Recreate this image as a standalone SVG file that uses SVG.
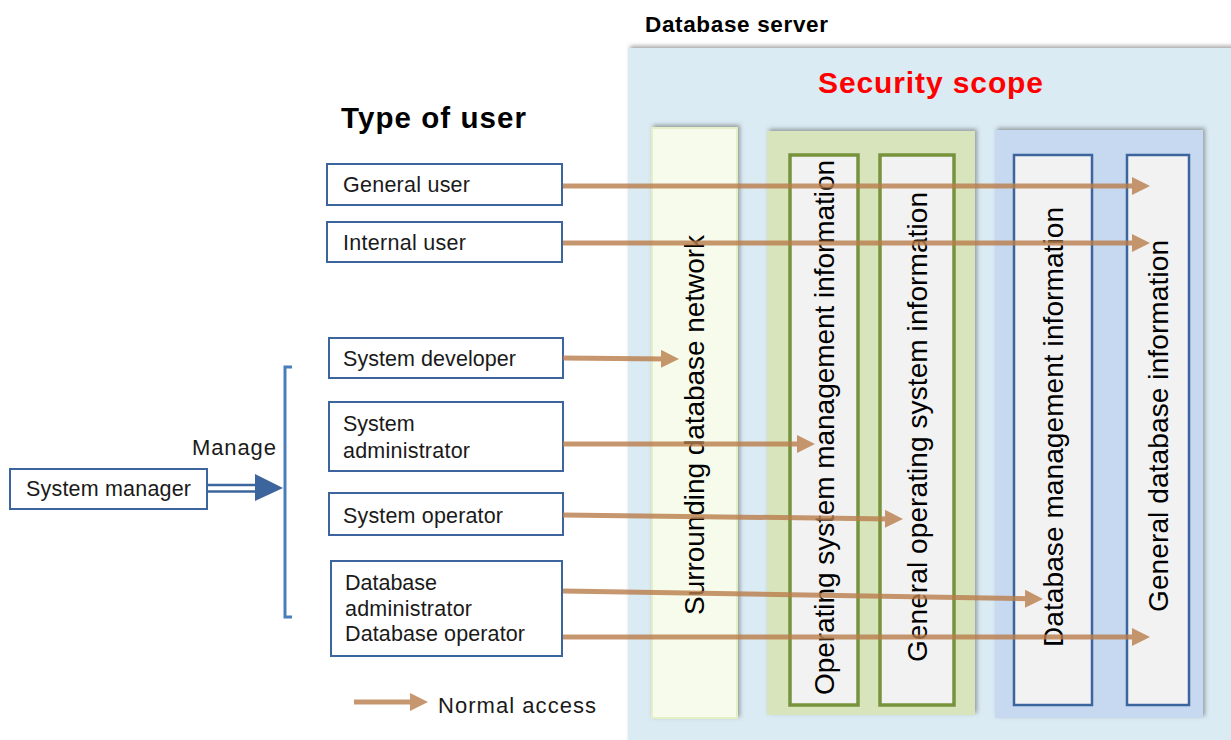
<svg xmlns="http://www.w3.org/2000/svg" width="1231" height="740" viewBox="0 0 1231 740">
  <defs>
    <filter id="shadow" x="-10%" y="-10%" width="120%" height="120%">
      <feDropShadow dx="2" dy="-2" stdDeviation="2" flood-color="#555" flood-opacity="0.55"/>
    </filter>
    <marker id="tan-head" markerUnits="userSpaceOnUse" markerWidth="18" markerHeight="18" refX="6" refY="9" orient="auto" viewBox="0 0 18 18">
      <path d="M0,0 L18,9 L0,18 z" fill="#b97d4b"/>
    </marker>
  </defs>
  <style>
    text { font-family: "Liberation Sans", Arial, sans-serif; fill: #1a1a1a; }
    .title { font-weight: bold; fill: #000; }
    .lbl { font-size: 21.5px; }
    .vert { font-size: 28px; text-anchor: middle; dominant-baseline: central; fill: #000; }
    .ubox { fill: #ffffff; stroke: #3d659d; stroke-width: 2; }
    .gbox { fill: #f2f2f2; stroke: #77933c; stroke-width: 3.5; }
    .bbox { fill: #f2f2f2; stroke: #3d659d; stroke-width: 2.5; }
    .conn line { stroke: #b97d4b; stroke-width: 5; marker-end: url(#tan-head); }
  </style>

  <rect width="1231" height="740" fill="#ffffff"/>

  <!-- Database server container -->
  <g id="database-server">
    <text class="title" x="645" y="32" font-size="22.5" textLength="183" lengthAdjust="spacing">Database server</text>
    <rect x="628" y="48" width="610" height="700" fill="#dbebf3" filter="url(#shadow)"/>
    <text x="818" y="93" font-size="30" font-weight="bold" fill="#ff0000" style="fill:#ff0000" textLength="225" lengthAdjust="spacing">Security scope</text>
  </g>

  <g id="surrounding-network">
    <rect x="652" y="128" width="85" height="590" fill="#f7fbeb" stroke="#e3efc6" stroke-width="2" filter="url(#shadow)"/>
    <text class="vert" transform="translate(694,425) rotate(-90)" textLength="380" lengthAdjust="spacing">Surrounding database network</text>
  </g>

  <g id="os-group">
    <rect x="767" y="131" width="208" height="584" fill="#d8e4bc" filter="url(#shadow)"/>
  </g>
  <g id="os-management">
    <rect class="gbox" x="790" y="155" width="68" height="550"/>
    <text class="vert" transform="translate(824,427.5) rotate(-90)" textLength="535" lengthAdjust="spacing">Operating system management information</text>
  </g>
  <g id="os-general">
    <rect class="gbox" x="880" y="155" width="74" height="550"/>
    <text class="vert" transform="translate(917,427) rotate(-90)" textLength="470" lengthAdjust="spacing">General operating system information</text>
  </g>

  <g id="db-group">
    <rect x="995" y="130" width="208" height="588" fill="#c6d9f1" filter="url(#shadow)"/>
  </g>
  <g id="db-management">
    <rect class="bbox" x="1014" y="155" width="78" height="550"/>
    <text class="vert" transform="translate(1053,427) rotate(-90)" textLength="440" lengthAdjust="spacing">Database management information</text>
  </g>
  <g id="db-general">
    <rect class="bbox" x="1127" y="155" width="62" height="550"/>
    <text class="vert" transform="translate(1158,426) rotate(-90)" textLength="372" lengthAdjust="spacing">General database information</text>
  </g>

  <!-- Left side -->
  <g id="type-of-user">
    <text class="title" x="341" y="128" font-size="29.5" textLength="185" lengthAdjust="spacing">Type of user</text>
  </g>

  <g id="general-user">
    <rect class="ubox" x="327" y="164" width="235" height="41"/>
    <text class="lbl" x="343" y="192" textLength="127" lengthAdjust="spacing">General user</text>
  </g>
  <g id="internal-user">
    <rect class="ubox" x="327" y="222" width="235" height="40"/>
    <text class="lbl" x="343" y="250" textLength="123" lengthAdjust="spacing">Internal user</text>
  </g>
  <g id="system-developer">
    <rect class="ubox" x="329" y="338" width="234" height="40"/>
    <text class="lbl" x="343" y="366" textLength="173" lengthAdjust="spacing">System developer</text>
  </g>
  <g id="system-administrator">
    <rect class="ubox" x="329" y="402" width="234" height="69"/>
    <text class="lbl" x="343" y="431">System</text>
    <text class="lbl" x="343" y="458" textLength="127" lengthAdjust="spacing">administrator</text>
  </g>
  <g id="system-operator">
    <rect class="ubox" x="329" y="493" width="234" height="42"/>
    <text class="lbl" x="343" y="523" textLength="160" lengthAdjust="spacing">System operator</text>
  </g>
  <g id="database-admin-operator">
    <rect class="ubox" x="331" y="561" width="231" height="95"/>
    <text class="lbl" x="345" y="590">Database</text>
    <text class="lbl" x="345" y="616" textLength="127" lengthAdjust="spacing">administrator</text>
    <text class="lbl" x="345" y="641" textLength="180" lengthAdjust="spacing">Database operator</text>
  </g>

  <g id="system-manager">
    <rect class="ubox" x="10" y="469" width="197" height="40"/>
    <text class="lbl" x="26" y="496" textLength="165" lengthAdjust="spacing">System manager</text>
  </g>

  <g id="manage-bracket">
    <text x="192" y="455" font-size="22" textLength="84" lengthAdjust="spacing">Manage</text>
    <path d="M292,367 L285,367 L285,617 L292,617" fill="none" stroke="#4a7ebb" stroke-width="3"/>
  </g>

  <!-- Connectors -->
  <g id="connectors">
    <g id="manage-arrow" fill="none" stroke="#3d659d" stroke-width="2.5">
      <line x1="207" y1="485" x2="258" y2="485"/>
      <line x1="207" y1="491.5" x2="258" y2="491.5"/>
      <polygon points="255,474 283,488 255,501" fill="#3d659d" stroke="none"/>
    </g>
    <g class="conn" opacity="0.8">
      <line x1="563" y1="186" x2="1138" y2="186"/>
      <line x1="563" y1="243" x2="1138" y2="243"/>
      <line x1="563" y1="358" x2="667" y2="358.9"/>
      <line x1="563" y1="444" x2="803" y2="444"/>
      <line x1="563" y1="515" x2="891" y2="518.9"/>
      <line x1="563" y1="591" x2="1031" y2="598.8"/>
      <line x1="563" y1="637" x2="1138" y2="637"/>
      <line x1="354" y1="702" x2="416" y2="702"/>
    </g>
  </g>

  <g id="legend">
    <text x="438" y="713" font-size="22" textLength="158" lengthAdjust="spacing">Normal access</text>
  </g>
</svg>
